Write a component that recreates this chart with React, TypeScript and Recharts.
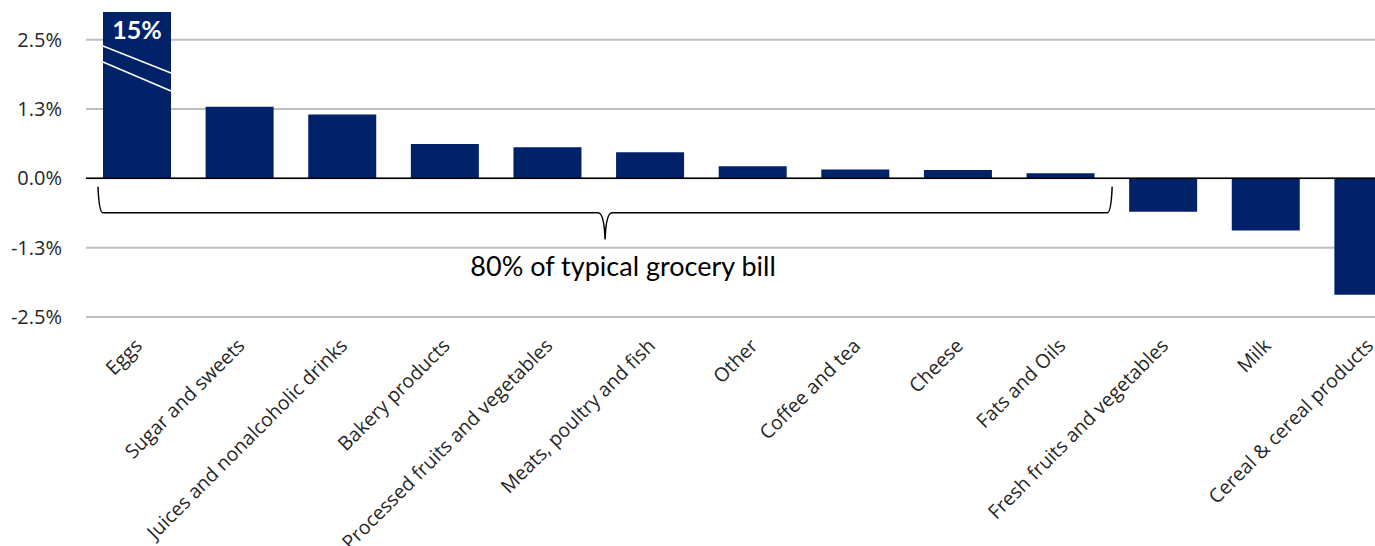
import { BarChart, Bar, XAxis, YAxis, CartesianGrid, ReferenceLine, ReferenceArea, Rectangle } from "recharts";

const categories = [
  "Eggs",
  "Sugar and sweets",
  "Juices and nonalcoholic drinks",
  "Bakery products",
  "Processed fruits and vegetables",
  "Meats, poultry and fish",
  "Other",
  "Coffee and tea",
  "Cheese",
  "Fats and Oils",
  "Fresh fruits and vegetables",
  "Milk",
  "Cereal & cereal products",
];

// % change, Eggs runs off the top of the scale (15%)
const changes = [15, 1.29, 1.15, 0.62, 0.56, 0.47, 0.22, 0.16, 0.15, 0.09, -0.6, -0.94, -2.1];

const yTicks = [-2.5, -1.25, 0, 1.25, 2.5];
const yTickLabels = ["-2.5%", "-1.3%", "0.0%", "1.3%", "2.5%"];

const Y_MIN = -2.5;
const Y_MAX = 3;

const bracketFrom = "Eggs";
const bracketTo = "Fats and Oils";
const bracketText = "80% of typical grocery bill";

const data = categories.map((name, i) => ({
  name,
  actual: changes[i],
  shown: Math.min(changes[i], Y_MAX),
}));

const NAVY = "#012169";
const TEXT = "#262626";

function BarShape(props: any) {
  const { x, y, width, height, payload } = props;
  const rect = <Rectangle x={x} y={y} width={width} height={height} fill={NAVY} />;
  if (payload.actual <= payload.shown) return rect;
  // broken bar: break marks and the real value
  return (
    <g>
      {rect}
      <line x1={x} y1={y + 34} x2={x + width} y2={y + 61} stroke="#fff" strokeWidth={1.5} />
      <line x1={x} y1={y + 50} x2={x + width} y2={y + 79} stroke="#fff" strokeWidth={1.5} />
      <text
        x={x + width / 2}
        y={y + 27}
        textAnchor="middle"
        fill="#fff"
        fontFamily="Lato"
        fontWeight={700}
        fontSize={25}
      >
        {`${payload.actual}%`}
      </text>
    </g>
  );
}

function Bracket(props: any) {
  const { x, y, width, height } = props;
  const left = x + 12;
  const right = x + width;
  const mid = (left + right) / 2;
  const top = y;
  const bottom = y + height;
  const hy = top + 26;
  const d = [
    `M ${left} ${top}`,
    `Q ${left + 1} ${hy} ${left + 5} ${hy}`,
    `L ${mid - 7} ${hy}`,
    `Q ${mid - 1} ${hy} ${mid} ${bottom}`,
    `Q ${mid + 1} ${hy} ${mid + 7} ${hy}`,
    `L ${right - 5} ${hy}`,
    `Q ${right - 1} ${hy} ${right} ${top}`,
  ].join(" ");
  return (
    <g>
      <path d={d} fill="none" stroke="#000" strokeWidth={1.5} />
      <text x={mid + 18} y={bottom + 37} textAnchor="middle" fill="#000" fontFamily="Lato" fontSize={27}>
        {bracketText}
      </text>
    </g>
  );
}

function CategoryTick(props: any) {
  const { x, y, payload } = props;
  const tx = x + 6;
  const ty = y + 24;
  return (
    <text
      x={tx}
      y={ty}
      transform={`rotate(-45, ${tx}, ${ty})`}
      textAnchor="end"
      fill={TEXT}
      fontFamily="'Open Sans'"
      fontSize={19.5}
    >
      {payload.value}
    </text>
  );
}

export default function App() {
  return (
    <div style={{ position: "absolute", left: 0, top: 0, width: 1375, height: 546, overflow: "hidden", background: "#fff" }}>
      <BarChart width={1420} height={546} data={data} margin={{ top: 12, right: 0, bottom: 0, left: 0 }}>
        <CartesianGrid vertical={false} stroke="#bfbfbf" strokeWidth={2} horizontalValues={yTicks} />
        <XAxis
          dataKey="name"
          interval={0}
          height={229}
          axisLine={false}
          tickLine={false}
          tickMargin={0}
          tick={<CategoryTick />}
        />
        <YAxis
          domain={[Y_MIN, Y_MAX]}
          ticks={yTicks}
          allowDataOverflow
          width={86}
          axisLine={false}
          tickLine={false}
          tickMargin={18}
          tick={{ fill: TEXT, fontSize: 20, fontFamily: "'Open Sans'" }}
          tickFormatter={(v: number) => yTickLabels[yTicks.indexOf(v)]}
        />
        <ReferenceArea
          x1={bracketFrom}
          x2={bracketTo}
          y1={-0.15}
          y2={-1.1}
          shape={<Bracket />}
          ifOverflow="visible"
        />
        <Bar dataKey="shown" barSize={68} fill={NAVY} shape={<BarShape />} isAnimationActive={false} />
        <ReferenceLine y={0} stroke="#000" strokeWidth={1.5} />
      </BarChart>
    </div>
  );
}
